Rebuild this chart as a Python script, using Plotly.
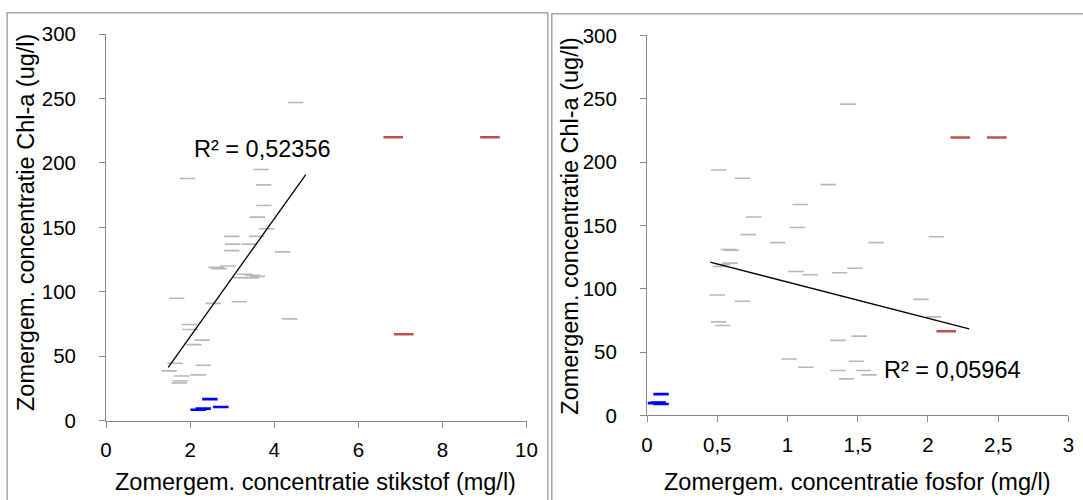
import plotly.graph_objects as go

# Target pixel positions are mapped onto figure pixels (the rendered page is
# photographed with a small offset/scale), then expressed as paper fractions.
W, H = 1090, 508
OFF = 8
SX, BX = 0.985, 2.0
SY, BY = 0.961, 2.0

def fxp(t):
    return (t + BX) / SX - OFF

def fyp(t):
    return (t - BY) / SY - OFF

def px(t):
    return fxp(t) / W

def py(t):
    return 1 - fyp(t) / H

# ---------------- data: left chart (stikstof) ----------------
n_gray_x = [4.51, 3.68, 1.94, 3.75, 3.75, 3.60, 3.82, 2.99, 3.58, 3.01, 3.41, 2.99, 4.20,
            2.69, 2.90, 3.30, 3.49, 3.46, 2.62, 3.20, 3.60, 1.68, 2.55, 3.17, 4.37, 1.98,
            2.00, 2.29, 2.09, 1.64, 2.31, 1.50, 1.80, 2.19, 1.76, 1.74]
n_gray_y = [247, 195, 188, 183, 167, 158, 149, 143, 143, 137, 137, 132, 131,
            118, 120, 113.6, 112.8, 110.8, 119, 111, 112, 95, 91, 92.3, 79, 74.6,
            70.7, 62.5, 59, 44.5, 43, 38.6, 34.7, 35.5, 31, 29.3]
n_red_x = [6.83, 9.13, 7.08]
n_red_y = [220, 220, 67]
n_blue_x = [2.47, 2.31, 2.19, 2.73]
n_blue_y = [16.7, 9.3, 8.5, 10.6]
n_trend_x = [1.48, 4.75]
n_trend_y = [41.4, 191.0]
n_r2_text = "R² = 0,52356"
n_r2_pos = (3.71, 210.5)

# ---------------- data: right chart (fosfor) ----------------
p_gray_x = [0.51, 0.68, 1.29, 1.09, 0.76, 1.07, 0.72, 0.93, 0.60, 0.58, 0.54, 0.59, 0.52,
            1.06, 1.16, 0.50, 0.68, 0.51, 0.54, 1.01, 1.13, 1.43, 2.06, 1.63, 1.48, 1.37,
            1.95, 2.04, 1.51, 1.36, 1.49, 1.36, 1.54, 1.42, 1.58]
p_gray_y = [193.7, 187.2, 182.2, 166.5, 156.6, 148.4, 142.7, 136.4, 130.4, 131, 119.1, 120.2, 117.6,
            113.6, 111, 95, 90.1, 73.8, 71, 44.5, 38, 245.8, 141.1, 136.4, 116.2, 112.6,
            91.6, 77.8, 62.6, 59.2, 42.7, 35.4, 35.4, 28.8, 32]
p_red_x = [2.23, 2.49, 2.13]
p_red_y = [219.4, 219.4, 66.5]
p_blue_x = [0.10, 0.06, 0.10, 0.08]
p_blue_y = [16.8, 9.7, 9.0, 10.2]
p_trend_x = [0.45, 2.293]
p_trend_y = [121.0, 68.3]
p_r2_text = "R² = 0,05964"
p_r2_pos = (2.173, 35.9)

# ---------------- tick labels / titles ----------------
y_ticks = [0, 50, 100, 150, 200, 250, 300]
y_ticktext = ["0", "50", "100", "150", "200", "250", "300"]
n_xticks = [0, 2, 4, 6, 8, 10]
n_xticktext = ["0", "2", "4", "6", "8", "10"]
p_xticks = [0, 0.5, 1, 1.5, 2, 2.5, 3]
p_xticktext = ["0", "0,5", "1", "1,5", "2", "2,5", "3"]
y_title = "Zomergem. concentratie Chl-a (ug/l)"
n_x_title = "Zomergem. concentratie stikstof (mg/l)"
p_x_title = "Zomergem. concentratie fosfor (mg/l)"

FONT = "Liberation Sans, Arial, sans-serif"
GRAY = "#b8b8b8"
RED = "#c0504d"
BLUE = "#0000ff"
AXC = "#898989"

fig = go.Figure()

def add_panel(xa, ya, gx, gy, rx, ry, bx, by, tx, ty):
    fig.add_trace(go.Scatter(x=gx, y=gy, mode="markers", xaxis=xa, yaxis=ya,
                             marker=dict(symbol="line-ew", size=11,
                                         line=dict(width=1.6, color=GRAY)),
                             showlegend=False, hoverinfo="x+y"))
    fig.add_trace(go.Scatter(x=rx, y=ry, mode="markers", xaxis=xa, yaxis=ya,
                             marker=dict(symbol="line-ew", size=14,
                                         line=dict(width=2.5, color=RED)),
                             showlegend=False, hoverinfo="x+y"))
    fig.add_trace(go.Scatter(x=bx, y=by, mode="markers", xaxis=xa, yaxis=ya,
                             marker=dict(symbol="line-ew", size=11,
                                         line=dict(width=2.6, color=BLUE)),
                             showlegend=False, hoverinfo="x+y"))
    fig.add_trace(go.Scatter(x=tx, y=ty, mode="lines", xaxis=xa, yaxis=ya,
                             line=dict(color="black", width=1.3),
                             showlegend=False, hoverinfo="skip"))

add_panel("x", "y", n_gray_x, n_gray_y, n_red_x, n_red_y, n_blue_x, n_blue_y, n_trend_x, n_trend_y)
add_panel("x2", "y2", p_gray_x, p_gray_y, p_red_x, p_red_y, p_blue_x, p_blue_y, p_trend_x, p_trend_y)

axis_common = dict(showgrid=False, zeroline=False, showline=True, linecolor=AXC, linewidth=1,
                   ticks="outside", ticklen=6, tickcolor=AXC, tickwidth=1,
                   tickfont=dict(family=FONT, size=20.5, color="black"))

TF = dict(size=23.5, family=FONT, color="black")

fig.update_layout(
    width=W, height=H,
    margin=dict(l=0, r=0, t=0, b=0),
    paper_bgcolor="white", plot_bgcolor="white",
    font=dict(family=FONT, color="black"),
    xaxis=dict(domain=[px(106), px(526.7)], range=[0, 10], tickvals=n_xticks, ticktext=n_xticktext,
               anchor="y", ticklabelstandoff=5, **axis_common),
    yaxis=dict(domain=[py(421), py(32)], range=[0, 300], tickvals=y_ticks, ticktext=y_ticktext,
               anchor="x", ticklabelstandoff=19, **axis_common),
    xaxis2=dict(domain=[px(647.3), px(1069)], range=[0, 3], tickvals=p_xticks, ticktext=p_xticktext,
                anchor="y2", ticklabelstandoff=5, **axis_common),
    yaxis2=dict(domain=[py(415.7), py(33.3)], range=[0, 300], tickvals=y_ticks, ticktext=y_ticktext,
                anchor="x2", ticklabelstandoff=19, **axis_common),
    shapes=[
        dict(type="rect", xref="paper", yref="paper", x0=max(px(7), 0.6 / W), x1=px(548), y0=-0.2,
             y1=1 - 0.8 / H, line=dict(color="#a6a6a6", width=1.5), layer="below"),
        dict(type="rect", xref="paper", yref="paper", x0=px(552), x1=1.2, y0=-0.2,
             y1=1 - 1.8 / H, line=dict(color="#a6a6a6", width=1.5), layer="below"),
    ],
    annotations=[
        dict(text=n_x_title, xref="paper", yref="paper", x=px(316), y=py(483),
             showarrow=False, xanchor="center", yanchor="middle", font=TF),
        dict(text=p_x_title, xref="paper", yref="paper", x=px(858), y=py(483),
             showarrow=False, xanchor="center", yanchor="middle", font=TF),
        dict(text=y_title, xref="paper", yref="paper", x=px(26), y=py(222), textangle=-90,
             showarrow=False, xanchor="center", yanchor="middle", font=TF),
        dict(text=y_title, xref="paper", yref="paper", x=px(570), y=py(225), textangle=-90,
             showarrow=False, xanchor="center", yanchor="middle", font=TF),
        dict(text=n_r2_text, xref="x", yref="y", x=n_r2_pos[0], y=n_r2_pos[1],
             showarrow=False, xanchor="center", yanchor="middle", font=dict(size=23.5, family=FONT)),
        dict(text=p_r2_text, xref="x2", yref="y2", x=p_r2_pos[0], y=p_r2_pos[1],
             showarrow=False, xanchor="center", yanchor="middle", font=dict(size=23.5, family=FONT)),
    ],
)

fig.write_html("out.html")
